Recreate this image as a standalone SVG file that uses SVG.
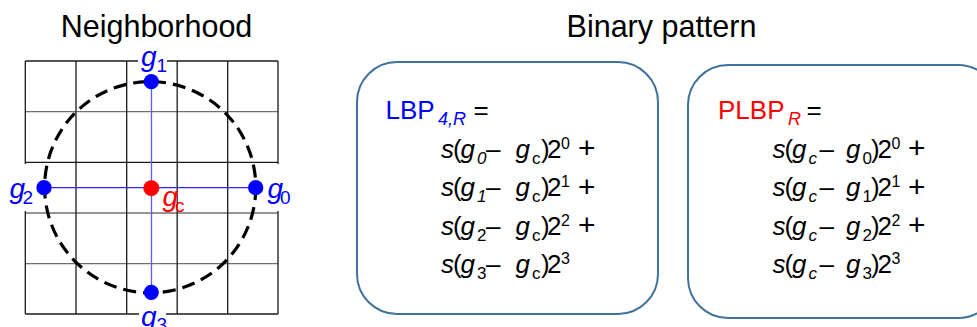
<svg xmlns="http://www.w3.org/2000/svg" width="977" height="327" viewBox="0 0 977 327">
<style>
text{font-family:"Liberation Sans",Arial,sans-serif;fill:#000}
.title{font-size:30.5px;text-anchor:middle}
.f{font-size:26px}
.it{font-style:italic}
.sub{font-size:17px}
.sup{font-size:16px}
.pl{font-size:30px}
.lbl{font-size:28px}
.lsub{font-size:19px}
.blue{fill:#0000ff}
.red{fill:#ff0000}
.gk{stroke:#1a1a1a;stroke-width:1.3}
.gg{stroke:#707070;stroke-width:1.3}
.box{fill:#fff;stroke:#41719c;stroke-width:2}
.wb{fill:#fff}
</style>
<rect width="977" height="327" fill="#fff"/>
<text class="title" x="156.5" y="36.5">Neighborhood</text>
<text class="title" x="661.5" y="36.5">Binary pattern</text>

<g id="grid">
<line class="gk" x1="25.3" y1="61" x2="278" y2="61"/>
<line class="gg" x1="25.3" y1="111.7" x2="278" y2="111.7"/>
<line class="gk" x1="25.3" y1="162.3" x2="278" y2="162.3"/>
<line class="gg" x1="25.3" y1="213" x2="278" y2="213"/>
<line class="gg" x1="25.3" y1="263.7" x2="278" y2="263.7"/>
<line class="gk" x1="25.3" y1="314" x2="278" y2="314"/>
<line class="gk" x1="25.3" y1="61" x2="25.3" y2="314"/>
<line class="gk" x1="76" y1="61" x2="76" y2="314"/>
<line class="gk" x1="126.7" y1="61" x2="126.7" y2="314"/>
<line class="gk" x1="177.2" y1="61" x2="177.2" y2="314"/>
<line class="gk" x1="227.7" y1="61" x2="227.7" y2="314"/>
<line class="gk" x1="278" y1="61" x2="278" y2="314"/>
<rect class="wb" x="138" y="47" width="29" height="25"/>
<rect class="wb" x="139" y="303" width="27" height="24"/>
<rect class="wb" x="0" y="164" width="36" height="47"/>
<rect class="wb" x="264" y="164" width="36" height="47"/>
<circle cx="150.2" cy="187.2" r="105.6" fill="none" stroke="#000" stroke-width="3.2" stroke-dasharray="13 7"/>
</g>

<g id="connectors">
<line x1="44" y1="187.7" x2="256" y2="187.7" stroke="#2a2aff" stroke-width="1.3"/>
<line x1="151.5" y1="81.7" x2="151.5" y2="292.3" stroke="#5a5aff" stroke-width="1.3"/>
</g>

<g id="g1"><circle cx="151.3" cy="81.7" r="7.6" fill="#0000ff"/>
<text class="lbl it blue" x="141" y="66">g</text><text class="lsub blue" x="156.5" y="71.5">1</text></g>
<g id="g3"><circle cx="151.3" cy="292.3" r="7.6" fill="#0000ff"/>
<text class="lbl it blue" x="141" y="326">g</text><text class="lsub blue" x="156.5" y="331">3</text></g>
<g id="g2"><circle cx="44" cy="187.7" r="7.6" fill="#0000ff"/>
<text class="lbl it blue" x="9.5" y="198">g</text><text class="lsub blue" x="22.5" y="203.5">2</text></g>
<g id="g0"><circle cx="255.7" cy="187.7" r="7.6" fill="#0000ff"/>
<text class="lbl it blue" x="267.5" y="198">g</text><text class="lsub blue" x="280" y="203.5">0</text></g>
<g id="gc"><circle cx="151.3" cy="188.2" r="8" fill="#ff0000"/>
<text class="lbl it red" x="162.5" y="206">g</text><text class="lsub red" x="175" y="211.5">c</text></g>

<g id="lbp">
<rect class="box" x="357" y="62" width="301" height="252" rx="40"/>
<text class="f"><tspan class="blue" x="385.5" y="119">LBP</tspan><tspan class="it blue" x="438" y="124.5" style="font-size:18px">4,R</tspan><tspan x="473.5" y="119">=</tspan></text>
<text class="f"><tspan class="it" x="441" y="157.5">s</tspan><tspan x="453" y="157.5">(</tspan><tspan class="it" x="460.5" y="157.5">g</tspan><tspan class="sub it" x="477" y="163.5">0</tspan><tspan x="486" y="157.5">–</tspan><tspan class="it" x="515.5" y="157.5">g</tspan><tspan class="sub" x="532" y="163.5">c</tspan><tspan x="541" y="157.5">)</tspan><tspan x="547" y="157.5">2</tspan><tspan class="sup" x="561" y="148.5">0</tspan><tspan class="pl" x="578" y="158">+</tspan></text>
<text class="f"><tspan class="it" x="441" y="196">s</tspan><tspan x="453" y="196">(</tspan><tspan class="it" x="460.5" y="196">g</tspan><tspan class="sub it" x="477" y="202">1</tspan><tspan x="486" y="196">–</tspan><tspan class="it" x="515.5" y="196">g</tspan><tspan class="sub" x="532" y="202">c</tspan><tspan x="541" y="196">)</tspan><tspan x="547" y="196">2</tspan><tspan class="sup" x="561" y="187">1</tspan><tspan class="pl" x="578" y="196.5">+</tspan></text>
<text class="f"><tspan class="it" x="441" y="234.5">s</tspan><tspan x="453" y="234.5">(</tspan><tspan class="it" x="460.5" y="234.5">g</tspan><tspan class="sub" x="477" y="240.5">2</tspan><tspan x="486" y="234.5">–</tspan><tspan class="it" x="515.5" y="234.5">g</tspan><tspan class="sub" x="532" y="240.5">c</tspan><tspan x="541" y="234.5">)</tspan><tspan x="547" y="234.5">2</tspan><tspan class="sup" x="561" y="225.5">2</tspan><tspan class="pl" x="578" y="235">+</tspan></text>
<text class="f"><tspan class="it" x="441" y="273">s</tspan><tspan x="453" y="273">(</tspan><tspan class="it" x="460.5" y="273">g</tspan><tspan class="sub" x="477" y="279">3</tspan><tspan x="486" y="273">–</tspan><tspan class="it" x="515.5" y="273">g</tspan><tspan class="sub" x="532" y="279">c</tspan><tspan x="541" y="273">)</tspan><tspan x="547" y="273">2</tspan><tspan class="sup" x="561" y="264">3</tspan></text>
</g>

<g id="plbp">
<rect class="box" x="688" y="65" width="310" height="253" rx="40"/>
<text class="f"><tspan class="red" x="718" y="119">PLBP</tspan><tspan class="it red" x="788" y="124.5" style="font-size:18px">R</tspan><tspan x="806.5" y="119">=</tspan></text>
<text class="f"><tspan class="it" x="772.5" y="157.5">s</tspan><tspan x="784.5" y="157.5">(</tspan><tspan class="it" x="792" y="157.5">g</tspan><tspan class="sub it" x="808.5" y="163.5">c</tspan><tspan x="819.5" y="157.5">–</tspan><tspan class="it" x="846" y="157.5">g</tspan><tspan class="sub" x="862.5" y="163.5">0</tspan><tspan x="871" y="157.5">)</tspan><tspan x="877.5" y="157.5">2</tspan><tspan class="sup" x="891.5" y="148.5">0</tspan><tspan class="pl" x="908" y="158">+</tspan></text>
<text class="f"><tspan class="it" x="772.5" y="196">s</tspan><tspan x="784.5" y="196">(</tspan><tspan class="it" x="792" y="196">g</tspan><tspan class="sub it" x="808.5" y="202">c</tspan><tspan x="819.5" y="196">–</tspan><tspan class="it" x="846" y="196">g</tspan><tspan class="sub" x="862.5" y="202">1</tspan><tspan x="871" y="196">)</tspan><tspan x="877.5" y="196">2</tspan><tspan class="sup" x="891.5" y="187">1</tspan><tspan class="pl" x="908" y="196.5">+</tspan></text>
<text class="f"><tspan class="it" x="772.5" y="234.5">s</tspan><tspan x="784.5" y="234.5">(</tspan><tspan class="it" x="792" y="234.5">g</tspan><tspan class="sub it" x="808.5" y="240.5">c</tspan><tspan x="819.5" y="234.5">–</tspan><tspan class="it" x="846" y="234.5">g</tspan><tspan class="sub" x="862.5" y="240.5">2</tspan><tspan x="871" y="234.5">)</tspan><tspan x="877.5" y="234.5">2</tspan><tspan class="sup" x="891.5" y="225.5">2</tspan><tspan class="pl" x="908" y="235">+</tspan></text>
<text class="f"><tspan class="it" x="772.5" y="273">s</tspan><tspan x="784.5" y="273">(</tspan><tspan class="it" x="792" y="273">g</tspan><tspan class="sub it" x="808.5" y="279">c</tspan><tspan x="819.5" y="273">–</tspan><tspan class="it" x="846" y="273">g</tspan><tspan class="sub" x="862.5" y="279">3</tspan><tspan x="871" y="273">)</tspan><tspan x="877.5" y="273">2</tspan><tspan class="sup" x="891.5" y="264">3</tspan></text>
</g>
</svg>
